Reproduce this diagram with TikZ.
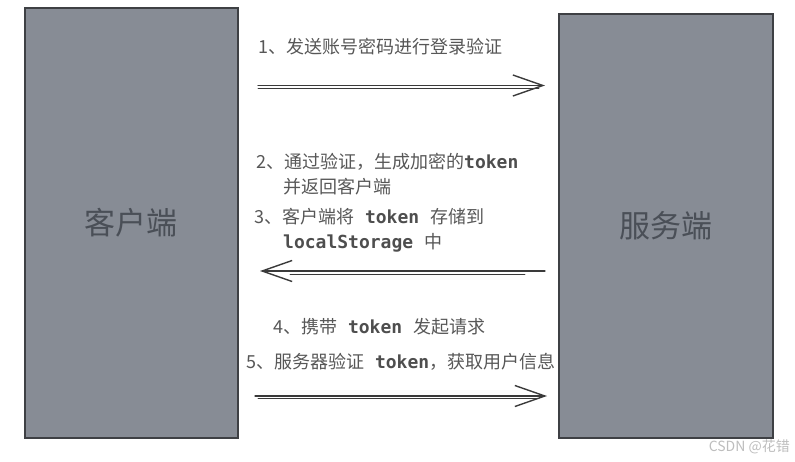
\documentclass[tikz,border=0pt]{standalone}
\usepackage{fontspec}
\setmainfont{Noto Sans CJK SC}
\newfontfamily\tokfont{DejaVu Sans Mono}
\usetikzlibrary{arrows.meta,positioning}

\definecolor{boxgray}{HTML}{878C95}
\definecolor{edgegray}{HTML}{3E4044}
\definecolor{namegray}{HTML}{4A4F57}
\definecolor{notegray}{HTML}{575757}
\definecolor{linegray}{HTML}{3A3A3A}
\definecolor{markgray}{HTML}{BDBDBD}

\newcommand{\tok}[1]{{\tokfont\bfseries\color{linegray!90}#1}}
\newcommand{\tsp}{{\tokfont\ }}

\begin{document}
\begin{tikzpicture}[x=1pt,y=-1pt,
	box/.style={draw=edgegray,line width=1.5pt,fill=boxgray,anchor=north west,
		minimum width=213pt,text=namegray,font=\fontsize{31}{34}\selectfont},
	note/.style={anchor=west,inner sep=0pt,align=left,text=notegray,
		font=\fontsize{18}{25}\selectfont},
	flow/.style={draw=linegray,line width=1.3pt,line cap=round,
		-{Straight Barb[length=30pt,width=21pt,line width=1.4pt]}},
	flowtwin/.style={draw=linegray,line width=0.9pt,line cap=round}]
	\useasboundingbox (0,0) rectangle (795,461);
	\node[box,minimum height=430pt] (client) at (24,7) {客户端};
	\node[box,minimum height=424pt,minimum width=214pt] (server) at (558,13) {服务端};
	\node[note] (step1) at (258,47) {1、发送账号密码进行登录验证};
	\node[note] (step2) at (256,174.5) {2、通过验证，生成加密的\tok{token}\\\hspace*{27pt}并返回客户端};
	\node[note] (step3) at (254,230) {3、客户端将\tsp\tok{token}\tsp{}存储到\\\hspace*{29pt}\tok{localStorage}\tsp{}中};
	\node[note] (step4) at (273,327) {4、携带\tsp\tok{token}\tsp{}发起请求};
	\node[note] (step5) at (246,362) {5、服务器验证\tsp\tok{token}，获取用户信息};
	\coordinate (a1s) at (258,85.5);
	\coordinate (a1e) at (545,85.5);
	\coordinate (a2s) at (545,271);
	\coordinate (a2e) at (260,271);
	\coordinate (a3s) at (255,396);
	\coordinate (a3e) at (547,396);
	\draw[flow] (a1s) -- (a1e);
	\draw[flowtwin] ([yshift=-3pt]a1s) -- ([xshift=-6pt,yshift=-3pt]a1e);
	\draw[flow] (a2s) -- (a2e);
	\draw[flowtwin] ([xshift=-20pt,yshift=-3pt]a2s) -- ([xshift=30pt,yshift=-3pt]a2e);
	\draw[flow] (a3s) -- (a3e);
	\draw[flowtwin] ([xshift=3pt,yshift=-2pt]a3s) -- ([xshift=-8pt,yshift=-2pt]a3e);
	\node[anchor=east,inner sep=0pt,text=markgray,font=\fontsize{14}{16}\selectfont] (mark) at (790,447) {CSDN @花错};
\end{tikzpicture}
\end{document}
